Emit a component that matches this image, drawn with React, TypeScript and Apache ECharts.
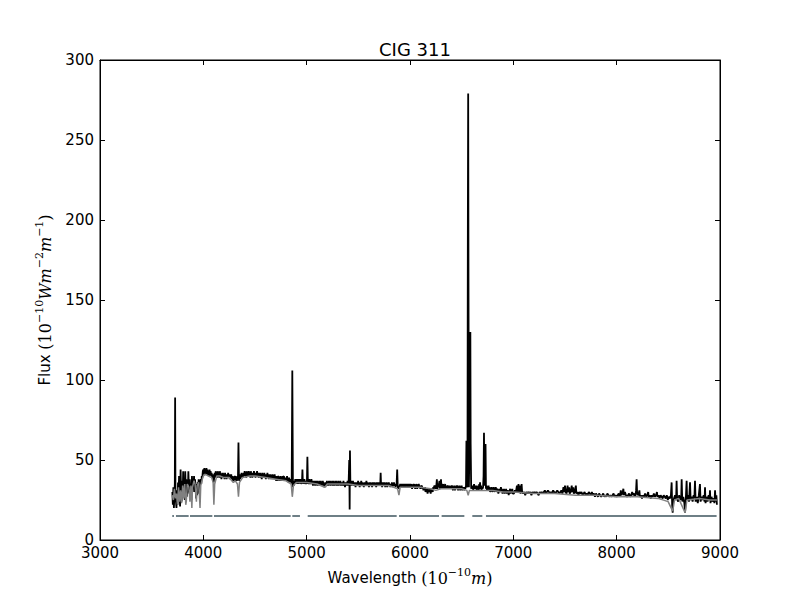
import React, { useEffect, useRef } from "react";
import * as echarts from "echarts";

const titleText = "CIG 311";
const xTicks = [3000, 9000, 1000];
const yTicks = [0, 300, 50];

// observed spectrum [wavelength (Å), flux]
const observed: number[][] = [
  [3700,30],[3705,22],[3710,33],[3715,20],[3720,28],[3724,35],[3727,89],[3730,32],[3735,24],[3740,20],[3745,31],[3750,22],[3755,36],[3760,26],[3765,40],[3770,28],[3775,21],[3780,44],[3785,30],[3790,24],[3795,37],[3800,29],[3805,43],[3810,27],[3815,33],[3820,25],[3825,43],[3830,31],[3835,38],[3840,27],[3845,35],[3850,29],[3855,43],[3860,33],[3865,30],[3869,38],[3875,28],[3880,35],[3885,25],[3890,40],[3895,30],[3900,37],[3905,33],[3910,40],[3915,30],[3920,38],[3925,32],[3930,26],[3935,35],[3940,28],[3945,36],[3950,33],[3955,38],[3960,29],[3965,34],[3970,36],[3975,38],[3980,35],[3985,40],[3990,39],[3995,43],
  [4000,44],[4005,41],[4010,45],[4015,42],[4020,44],[4025,41],[4030,45],[4035,42],[4040,44],[4045,40],[4050,43],[4055,40],[4060,44],[4065,41],[4070,43],[4075,40],[4080,42],[4085,39],[4090,41],[4095,38],[4100,36],[4105,39],[4110,42],[4115,39],[4120,43],[4125,40],[4130,42],[4135,39],[4140,43],[4145,40],[4150,42],[4155,39],[4160,43],[4165,40],[4170,42],[4175,38],[4180,41],[4185,39],[4190,42],[4195,39],[4200,41],[4205,38],[4210,42],[4215,39],[4220,41],[4225,38],[4230,41],[4235,39],[4240,42],[4245,39],[4250,41],[4255,38],[4260,41],[4265,39],[4270,41],[4275,38],[4280,40],[4285,37],[4290,39],[4295,37],[4300,40],[4305,38],[4310,40],[4315,37],[4320,39],[4325,37],[4330,40],[4335,38],[4340,61],[4345,37],[4350,39],[4355,38],[4360,41],[4365,39],[4370,42],[4375,39],[4380,41],[4385,39],[4390,42],[4395,40],[4400,43],[4405,40],[4410,42],[4415,39],[4420,43],[4425,40],[4430,42],[4435,40],[4440,43],[4445,40],[4450,42],[4455,39],[4460,43],[4465,40],[4470,42],[4475,39],[4480,42],[4485,40],[4490,43],[4495,40],[4500,42],[4505,39],[4510,42],[4515,40],[4520,43],[4525,40],[4530,42],[4535,39],[4540,42],[4545,40],[4550,42],[4555,39],[4560,41],[4565,38],[4570,42],[4575,39],[4580,41],[4585,39],[4590,42],[4595,39],[4600,41],[4605,38],[4610,41],[4615,39],[4620,42],[4625,39],[4630,41],[4635,38],[4640,41],[4645,39],[4650,41],[4655,38],[4660,40],[4665,38],[4670,41],[4675,38],[4680,40],[4685,38],[4690,41],[4695,38],[4700,40],[4705,37],[4710,40],[4715,37],[4720,40],[4725,38],[4730,40],[4735,37],[4740,39],[4745,37],[4750,40],[4755,37],[4760,39],[4765,37],[4770,40],[4775,38],[4780,40],[4785,37],[4790,39],[4795,37],[4800,39],[4805,37],[4810,40],[4815,37],[4820,39],[4825,36],[4830,39],[4835,37],[4840,38],[4845,36],[4850,37],[4855,35],[4861,106],[4867,33],[4870,36],[4875,34],[4880,37],[4885,35],[4890,38],[4895,35],[4900,38],[4905,36],[4910,38],[4915,35],[4920,38],[4925,35],[4930,38],[4935,36],[4940,38],[4945,35],[4950,37],[4954,35],[4959,44],[4963,36],[4968,38],[4973,35],[4978,38],[4983,35],[4988,37],[4993,35],[4998,37],[5002,35],
  [5007,52],[5012,35],[5016,37],[5021,35],[5026,38],[5031,35],[5036,37],[5041,35],[5046,38],[5051,35],[5056,37],[5061,34],[5066,37],[5071,35],[5076,37],[5081,34],[5086,37],[5091,35],[5096,37],[5101,34],[5106,37],[5111,35],[5116,36],[5121,34],[5126,37],[5131,35],[5136,37],[5141,34],[5146,36],[5151,34],[5156,37],[5161,35],[5166,36],[5171,33],[5176,35],[5181,33],[5186,36],[5191,34],[5196,37],[5201,34],[5206,36],[5211,34],[5216,37],[5221,35],[5226,37],[5231,34],[5236,36],[5241,35],[5246,37],[5251,34],[5256,37],[5261,34],[5266,36],[5271,34],[5276,37],[5281,35],[5286,37],[5291,34],[5296,36],[5301,34],[5306,37],[5311,34],[5316,36],[5321,35],[5326,37],[5331,34],[5336,36],[5341,34],[5346,36],[5351,34],[5356,37],[5361,34],[5366,35],[5371,33],[5376,36],[5381,34],[5386,36],[5391,34],[5396,37],[5401,34],[5406,36],[5412,50],[5416,19],[5419,56],[5423,35],[5428,37],[5433,34],[5438,37],[5443,35],[5448,37],[5453,34],[5458,36],[5463,34],[5468,36],[5473,33],[5478,36],[5483,34],[5488,36],[5493,34],[5498,37],[5503,34],[5508,36],[5513,33],[5518,36],[5523,34],[5528,37],[5533,34],[5538,36],[5543,34],[5548,35],[5553,33],[5558,36],[5563,34],[5568,36],[5573,34],[5578,37],[5583,34],[5588,36],[5593,34],[5598,35],[5603,33],[5608,36],[5613,34],[5618,36],[5623,34],[5628,35],[5633,33],[5638,36],[5643,34],[5648,36],[5653,34],[5658,36],[5663,34],[5668,35],[5673,33],[5678,36],[5683,34],[5688,36],[5693,34],[5698,36],[5703,34],[5708,35],[5712,34],[5716,42],[5720,34],[5725,36],[5730,33],[5735,36],[5740,34],[5745,36],[5750,34],[5755,36],[5760,33],[5765,35],[5770,34],[5775,36],[5780,33],[5785,35],[5790,34],[5795,36],[5800,34],[5805,35],[5810,33],[5815,35],[5820,34],[5825,36],[5830,33],[5835,35],[5840,34],[5845,36],[5850,34],[5855,35],[5860,33],[5865,35],[5870,34],[5876,44],[5882,32],[5886,34],[5890,32],[5895,34],[5900,33],[5905,35],[5910,33],[5915,35],[5920,33],[5925,35],[5930,34],[5935,35],[5940,33],[5945,35],[5950,33],[5955,35],[5960,33],[5965,35],[5970,34],[5975,35],[5980,33],[5985,35],[5990,33],[5995,35],
  [6000,33],[6005,35],[6010,33],[6015,35],[6020,32],[6025,34],[6030,33],[6035,35],[6040,33],[6045,35],[6050,32],[6055,34],[6060,33],[6065,35],[6070,32],[6075,34],[6080,33],[6085,35],[6090,33],[6095,34],[6100,32],[6105,34],[6110,33],[6115,34],[6120,32],[6125,33],[6130,31],[6135,33],[6140,32],[6145,33],[6150,30],[6155,32],[6160,31],[6165,32],[6170,29],[6175,31],[6180,30],[6185,32],[6190,30],[6195,31],[6200,29],[6205,32],[6210,31],[6215,32],[6220,30],[6225,33],[6230,32],[6235,34],[6240,33],[6245,34],[6250,32],[6255,34],[6260,38],[6265,32],[6270,34],[6275,33],[6280,35],[6285,37],[6290,32],[6295,34],[6300,38],[6305,32],[6310,34],[6315,33],[6320,35],[6325,32],[6330,34],[6335,33],[6340,35],[6345,32],[6350,34],[6355,32],[6360,34],[6365,33],[6370,34],[6375,32],[6380,34],[6385,32],[6390,33],[6395,32],[6400,34],[6405,33],[6410,34],[6415,31],[6420,33],[6425,32],[6430,34],[6435,31],[6440,33],[6445,32],[6450,34],[6455,33],[6460,34],[6465,31],[6470,33],[6475,32],[6480,34],[6485,31],[6490,33],[6495,32],[6500,34],[6505,31],[6510,33],[6515,32],[6520,33],[6525,31],[6530,33],[6535,32],[6542,34],[6546,62],[6550,33],[6556,34],[6560,200],[6563,279],[6566,160],[6570,33],[6576,33],[6580,80],[6584,130],[6587,60],[6592,32],[6597,34],[6602,32],[6607,34],[6612,31],[6617,33],[6620,35],[6625,32],[6630,34],[6635,32],[6640,34],[6645,31],[6650,33],[6655,32],[6660,34],[6665,31],[6670,35],[6674,32],[6678,36],[6682,32],[6687,34],[6692,31],[6697,33],[6702,32],[6707,33],[6712,40],[6716,67],[6720,40],[6725,34],[6731,60],[6735,32],[6740,34],[6745,31],[6750,33],[6755,32],[6760,34],[6765,31],[6770,33],[6775,30],[6780,32],[6785,31],[6790,33],[6795,30],[6800,32],[6805,31],[6810,33],[6815,30],[6820,32],[6825,31],[6830,33],[6835,30],[6840,32],[6845,31],[6850,32],[6855,29],[6860,31],[6865,30],[6870,32],[6875,31],[6880,33],[6885,30],[6890,32],[6895,29],[6900,31],[6905,30],[6910,32],[6915,29],[6920,31],[6925,30],[6930,32],[6935,29],[6940,31],[6945,30],[6950,31],[6955,28],[6960,30],[6965,30],[6970,32],[6975,29],[6980,31],[6985,30],[6990,32],[6995,29],
  [7005,29],[7015,31],[7025,30],[7035,34],[7040,30],[7050,35],[7055,30],[7065,34],[7070,29],[7080,35],[7085,30],[7095,29],[7105,30],[7115,28],[7125,30],[7135,29],[7145,30],[7155,29],[7165,30],[7175,28],[7185,30],[7195,29],[7205,30],[7215,29],[7225,30],[7235,29],[7245,28],[7255,30],[7265,29],[7275,30],[7285,29],[7295,30],[7305,31],[7315,29],[7325,30],[7335,31],[7345,30],[7355,29],[7365,30],[7375,29],[7385,31],[7395,30],[7405,29],[7415,30],[7425,31],[7435,30],[7445,29],[7455,30],[7465,31],[7475,29],[7485,33],[7490,30],[7500,34],[7505,30],[7515,29],[7525,34],[7530,30],[7540,33],[7545,29],[7555,30],[7565,34],[7570,30],[7580,33],[7585,29],[7595,30],[7605,34],[7610,29],[7620,30],[7630,28],[7640,30],[7650,29],[7660,30],[7670,28],[7680,29],[7690,30],[7700,28],[7710,29],[7720,28],[7730,30],[7740,29],[7750,28],[7760,30],[7770,28],[7780,29],[7790,27],[7800,29],[7810,28],[7820,27],[7830,29],[7840,28],[7850,27],[7860,28],[7870,29],[7880,27],[7890,28],[7900,27],[7910,29],[7920,28],[7930,27],[7940,28],[7950,27],[7960,28],[7970,29],[7980,27],[7990,28],
  [8000,27],[8010,28],[8020,29],[8030,27],[8040,31],[8045,28],[8055,29],[8065,32],[8070,28],[8080,30],[8090,28],[8100,27],[8110,28],[8120,29],[8130,27],[8140,28],[8150,30],[8160,28],[8170,29],[8180,27],[8188,31],[8193,38],[8198,29],[8210,28],[8220,31],[8225,27],[8235,28],[8245,26],[8255,28],[8265,27],[8275,29],[8285,27],[8295,28],[8305,30],[8310,27],[8320,28],[8330,26],[8340,28],[8350,27],[8360,29],[8370,27],[8380,28],[8390,30],[8395,27],[8405,28],[8415,26],[8425,28],[8435,27],[8445,26],[8455,28],[8465,27],[8475,26],[8485,28],[8495,25],[8505,27],[8515,26],[8525,28],[8532,36],[8537,22],[8542,17],[8547,24],[8555,26],[8565,28],[8575,25],[8580,37],[8585,26],[8595,24],[8605,28],[8615,25],[8625,27],[8629,38],[8635,24],[8645,27],[8655,23],[8662,17],[8668,24],[8677,37],[8682,25],[8690,28],[8700,24],[8710,36],[8716,25],[8725,27],[8735,24],[8745,28],[8752,26],[8758,37],[8764,24],[8775,27],[8785,23],[8795,28],[8806,35],[8812,24],[8822,27],[8832,25],[8842,28],[8850,24],[8855,33],[8860,23],[8870,27],[8880,24],[8890,28],[8898,25],[8903,31],[8908,23],[8918,27],[8928,24],[8938,26],[8946,23],[8952,31],[8958,24],[8965,28],[8970,22],
];

// model (synthetic) spectrum [wavelength (Å), flux]
const model: number[][] = [
  [3700,28],[3710,25],[3720,32],[3730,26],[3740,29],[3750,22],[3760,33],[3770,24],[3780,31],[3790,23],[3800,34],[3810,26],[3820,35],[3830,22],[3835,24],[3845,35],[3860,33],[3870,24],[3880,34],[3889,20],[3895,33],[3910,37],[3920,35],[3933,24],[3940,34],[3955,36],[3968,20],[3975,34],[3990,38],
  [4000,40],[4020,41],[4050,40],[4080,39],[4095,36],[4102,22],[4110,35],[4130,40],[4160,40],[4200,39],[4250,39],[4290,36],[4310,37],[4330,35],[4340,27],[4350,36],[4380,39],[4450,40],[4500,40],[4600,39],[4700,38],[4800,37],[4850,35],[4861,27],[4872,34],[4900,36],
  [5000,36],[5100,35],[5175,33],[5200,35],[5300,35],[5400,35],[5500,34],[5600,34],[5700,34],[5800,34],[5880,32],[5893,28],[5905,33],
  [6000,33],[6100,33],[6200,32],[6250,31],[6300,32],[6400,32],[6500,32],[6550,31],[6563,28],[6575,31],[6700,31],[6800,31],[6900,30],
  [7000,30],[7200,29],[7400,29],[7600,28],[7800,28],[8000,27],[8200,27],[8400,26],[8498,24],[8542,18],[8560,25],[8600,26],[8662,17],[8680,25],[8800,26],[8900,25],[8970,25],
];

// good-pixel mask segments [start, end] in Å, drawn at a constant level
const maskLevel = 15;
const maskSegments: number[][] = [
  [3699, 3716], [3735, 3858], [3871, 4087], [4103, 4845], [4861, 4935],
  [5010, 5871], [5894, 6281], [6306, 6526], [6603, 6700], [6735, 8967],
];

const maskData: (number | string)[][] = [];
maskSegments.forEach(([a, b]) => {
  maskData.push([a, maskLevel], [b, maskLevel], [b, "-"]);
});

export default function App() {
  const ref = useRef<HTMLDivElement>(null);
  useEffect(() => {
    if (!ref.current) return;
    const chart = echarts.init(ref.current, undefined, { renderer: "svg" });
    const sans = "DejaVu Sans";
    const serif = "DejaVu Serif";
    const axisCommon = {
      axisLine: { show: true, onZero: false, lineStyle: { color: "#000", width: 1 } },
      axisTick: { show: true, inside: true, length: 5, lineStyle: { color: "#000" } },
      splitLine: { show: false },
    };
    const math = {
      it: { fontFamily: serif, fontStyle: "italic", fontSize: 16, color: "#000" },
      n: { fontFamily: serif, fontSize: 16, color: "#000" },
      sup: { fontFamily: serif, fontSize: 11, color: "#000", verticalAlign: "top", lineHeight: 22 },
      t: { fontFamily: sans, fontSize: 15, color: "#000" },
    };
    chart.setOption({
      animation: false,
      backgroundColor: "#fff",
      title: {
        text: titleText,
        left: 410,
        textAlign: "center",
        top: 35,
        textStyle: { fontFamily: sans, fontSize: 18, fontWeight: "normal", color: "#000" },
      },
      grid: { left: 100, right: 80, top: 60, bottom: 60, show: true, borderColor: "#000", borderWidth: 1 },
      xAxis: [
        {
          type: "value", min: xTicks[0], max: xTicks[1], interval: xTicks[2], position: "bottom",
          ...axisCommon,
          axisLabel: { fontFamily: sans, fontSize: 15, color: "#000", margin: 5, formatter: (v: number) => String(v) },
          name: "{t|Wavelength }{n|(10}{sup|−10}{it|m}{n|)}",
          nameLocation: "middle",
          nameGap: 27,
          nameTextStyle: { rich: math },
        },
        {
          type: "value", min: xTicks[0], max: xTicks[1], interval: xTicks[2], position: "top",
          ...axisCommon, axisLabel: { show: false },
        },
      ],
      yAxis: [
        {
          type: "value", min: yTicks[0], max: yTicks[1], interval: yTicks[2], position: "left",
          ...axisCommon,
          axisLabel: { fontFamily: sans, fontSize: 15, color: "#000", margin: 6, formatter: (v: number) => String(v) },
          name: "{t|Flux }{n|(10}{sup|−10}{it|Wm}{sup|−2}{it|m}{sup|−1}{n|)}",
          nameLocation: "middle",
          nameGap: 44,
          nameTextStyle: { rich: math },
        },
        {
          type: "value", min: yTicks[0], max: yTicks[1], interval: yTicks[2], position: "right",
          ...axisCommon, axisLabel: { show: false },
        },
      ],
      series: [
        {
          type: "line", name: "mask", data: maskData, showSymbol: false, connectNulls: false,
          lineStyle: { color: "#6e7f86", width: 2 }, silent: true, z: 2,
        },
        {
          type: "line", name: "observed", data: observed, showSymbol: false,
          lineStyle: { color: "#000", width: 1.8 }, silent: true, z: 3,
        },
        {
          type: "line", name: "model", data: model, showSymbol: false,
          lineStyle: { color: "#808080", width: 1.5 }, silent: true, z: 4,
        },
      ],
    });
    return () => chart.dispose();
  }, []);
  return <div ref={ref} style={{ width: 800, height: 600, position: "absolute", left: 0, top: 0 }} />;
}
